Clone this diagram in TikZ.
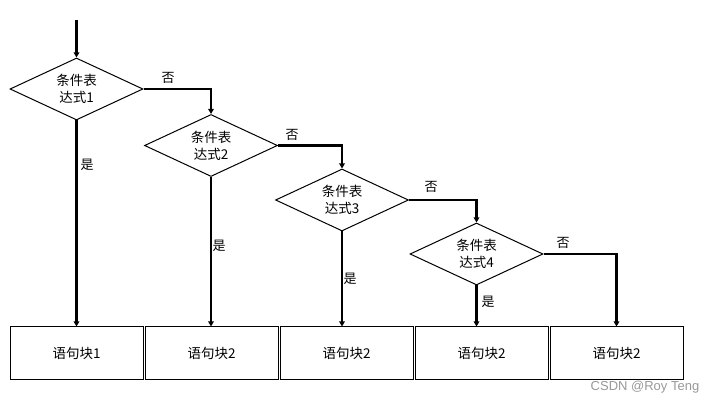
\documentclass[tikz,border=0pt]{standalone}
\usepackage{fontspec}
\newfontfamily\cjk{Noto Sans CJK SC}
\setsansfont{Liberation Sans}
\usetikzlibrary{shapes.geometric,arrows.meta}
\tikzset{
  cond/.style={diamond,draw,line width=1pt,inner sep=0pt,aspect=2.14,
    minimum width=133pt,minimum height=62pt,align=center,
    font=\cjk\fontsize{13.5}{17}\selectfont},
  blk/.style={rectangle,draw,line width=1pt,minimum width=133pt,minimum height=52pt,
    inner sep=0pt,font=\cjk\fontsize{13.5}{17}\selectfont},
  flow/.style={line width=2.2pt,-{Triangle[length=5pt,width=5.5pt]}},
  lbl/.style={font=\cjk\fontsize{13}{14}\selectfont,inner sep=0pt}
}
\begin{document}
\begin{tikzpicture}[x=1pt,y=-1pt]
\useasboundingbox (0,0) rectangle (715,403);
\node[cond] (d1) at (76.5,89) {条件表\\达式1};
\node[cond] (d2) at (211,145.5) {条件表\\达式2};
\node[cond] (d3) at (342,200) {条件表\\达式3};
\node[cond] (d4) at (476.5,254) {条件表\\达式4};
\node[blk] (b1) at (76.5,353) {语句块1};
\node[blk] (b2) at (211.5,353) {语句块2};
\node[blk] (b3) at (346.5,353) {语句块2};
\node[blk] (b4) at (481.5,353) {语句块2};
\node[blk] (b5) at (616.5,353) {语句块2};
\coordinate (start) at (76.5,20);
\draw[flow] (start) -- (d1.north);
\draw[flow] (d1.south) -- (d1.south |- b1.north);
\draw[flow] (d2.south) -- (d2.south |- b2.north);
\draw[flow] (d3.south) -- (d3.south |- b3.north);
\draw[flow] (d4.south) -- (d4.south |- b4.north);
\draw[flow] (d1.east) -| (d2.north);
\draw[flow] (d2.east) -| (d3.north);
\draw[flow] (d3.east) -| (d4.north);
\draw[flow] (d4.east) -| (b5.north);
\node[lbl] (y1) at (87,165) {是};
\node[lbl] (y2) at (219,246) {是};
\node[lbl] (y3) at (350,279) {是};
\node[lbl] (y4) at (488,302) {是};
\node[lbl] (n1) at (168,78) {否};
\node[lbl] (n2) at (292,135) {否};
\node[lbl] (n3) at (431,187) {否};
\node[lbl] (n4) at (563,243) {否};
\node[font=\sffamily\fontsize{13}{15}\selectfont,text=black!40,inner sep=0pt] (wm) at (645,387) {CSDN @Roy Teng};
\end{tikzpicture}
\end{document}
